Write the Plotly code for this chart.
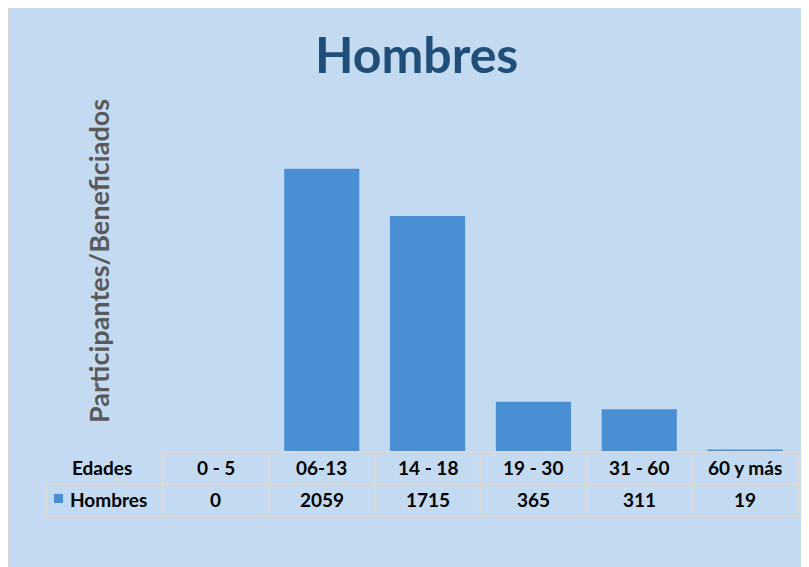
import plotly.graph_objects as go

categories = ["0 - 5", "06-13", "14 - 18", "19 - 30", "31 - 60", "60 y más"]
hombres = [0, 2059, 1715, 365, 311, 19]
series_name = "Hombres"
row_header = "Edades"
title_text = "Hombres"
ytitle_text = "Participantes/Beneficiados"

OFF = 8  # page body margin in the browser
W, H = 809 - OFF, 567 - OFF
# plot area bounds in reference-screen pixels
L, R, T, B = 163, 798, 108, 452

def px(x):
    return (x - L) / (R - L)

def py(y):
    return (B - y) / (B - T)

BG = "#c4daf1"
BAR = "#4a8ed3"
FONT = "Lato"

fig = go.Figure()
fig.add_trace(go.Bar(
    x=categories, y=hombres, name=series_name,
    marker=dict(color=BAR, line=dict(width=0)),
    width=0.71, showlegend=False,
))

shapes = []
shapes.append(dict(type="rect", xref="paper", yref="paper",
                   x0=px(8), x1=px(815), y0=py(6), y1=py(575),
                   fillcolor=BG, line=dict(color="#d6d6d6", width=2), layer="below"))
grid = dict(color="#d9d9d9", width=2)
col_edges = [163 + i * (R - L) / 6 for i in range(7)]
shapes.append(dict(type="line", xref="paper", yref="paper", x0=px(163), x1=px(800), y0=py(452), y1=py(452), line=grid))
for yy in (484, 516):
    shapes.append(dict(type="line", xref="paper", yref="paper", x0=px(46), x1=px(800), y0=py(yy), y1=py(yy), line=grid))
for xe in col_edges:
    shapes.append(dict(type="line", xref="paper", yref="paper", x0=px(xe), x1=px(xe), y0=py(452), y1=py(516), line=grid))
shapes.append(dict(type="line", xref="paper", yref="paper", x0=px(46), x1=px(46), y0=py(484), y1=py(516), line=grid))
shapes.append(dict(type="rect", xref="paper", yref="paper", x0=px(54), x1=px(63), y0=py(494), y1=py(503),
                   fillcolor=BAR, line=dict(width=0)))

ann = []
tf = dict(family=FONT, size=19, color="#000000")
ann.append(dict(text="<b>%s</b>" % row_header, xref="paper", yref="paper", x=px(102), y=py(467),
                showarrow=False, font=tf, xanchor="center", yanchor="middle"))
ann.append(dict(text="<b>%s</b>" % series_name, xref="paper", yref="paper", x=px(68), y=py(499),
                showarrow=False, font=tf, xanchor="left", yanchor="middle"))
for i, (c, v) in enumerate(zip(categories, hombres)):
    cx = (col_edges[i] + col_edges[i + 1]) / 2
    ann.append(dict(text="<b>%s</b>" % c, xref="paper", yref="paper", x=px(cx), y=py(467),
                    showarrow=False, font=tf, xanchor="center", yanchor="middle"))
    ann.append(dict(text="<b>%d</b>" % v, xref="paper", yref="paper", x=px(cx), y=py(499),
                    showarrow=False, font=tf, xanchor="center", yanchor="middle"))
ann.append(dict(text="<b>%s</b>" % title_text, xref="paper", yref="paper", x=px(416), y=py(54),
                showarrow=False, font=dict(family=FONT, size=50, color="#1f4e79"),
                xanchor="center", yanchor="middle"))
ann.append(dict(text="<b>%s</b>" % ytitle_text, xref="paper", yref="paper", x=px(98), y=py(261),
                showarrow=False, textangle=-90, font=dict(family=FONT, size=27, color="#595959"),
                xanchor="center", yanchor="middle"))

fig.update_layout(
    width=W, height=H,
    margin=dict(l=L - OFF, r=(809 - R), t=T - OFF, b=(567 - B), pad=0),
    paper_bgcolor="white", plot_bgcolor="rgba(0,0,0,0)",
    xaxis=dict(showticklabels=False, showgrid=False, zeroline=False, showline=False,
               range=[-0.5, 5.5], fixedrange=True),
    yaxis=dict(showticklabels=False, showgrid=False, zeroline=False, showline=False,
               range=[0, 2500], fixedrange=True),
    shapes=shapes, annotations=ann,
)

fig.write_html("out.html")
